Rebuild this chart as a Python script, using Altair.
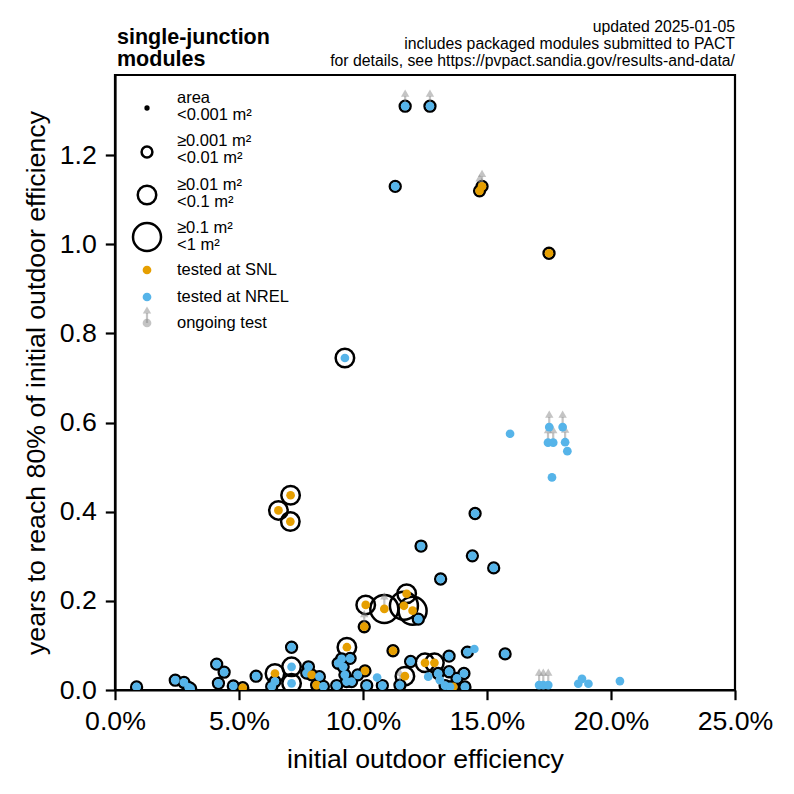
import altair as alt
import pandas as pd

# ---------------- data ----------------
eff_pct = [
    11.70, 12.70, 11.30, 14.80, 14.70, 17.50, 9.27, 7.08, 6.59, 7.07,
    14.52, 12.34, 14.41, 15.27, 13.13,
    15.93, 17.51, 18.05, 17.46, 17.67, 18.15, 18.24, 17.62,
    17.10, 17.27, 17.47, 18.68, 18.83, 19.09, 20.36,
    10.11, 10.86, 11.76, 11.65, 12.00, 12.23, 10.05, 9.35, 11.21, 14.21, 14.49, 15.73, 13.47, 11.92, 12.50, 12.88, 10.08,
    9.14, 9.00, 9.20, 9.48, 9.27, 9.34, 9.79, 9.54, 8.94, 10.15, 10.78, 10.57, 11.69, 11.49,
    13.47, 14.07, 13.03, 12.63, 13.10, 13.79, 13.31, 13.64, 14.11, 13.51,
    0.87, 2.43, 2.78, 2.97, 3.05, 4.10, 4.40, 4.17, 4.77, 5.15, 5.69, 7.12, 7.12, 7.12,
    6.45, 6.45, 6.32, 7.80, 7.73, 7.93, 8.24, 8.13, 8.40,
]
years = [
    1.31, 1.31, 1.13, 1.13, 1.12, 0.98, 0.745, 0.437, 0.403, 0.378,
    0.396, 0.323, 0.301, 0.274, 0.249,
    0.575, 0.590, 0.590, 0.555, 0.555, 0.556, 0.536, 0.477,
    0.011, 0.011, 0.011, 0.014, 0.025, 0.014, 0.020,
    0.191, 0.182, 0.216, 0.189, 0.178, 0.159, 0.142, 0.096, 0.088, 0.085, 0.092, 0.081, 0.076, 0.064, 0.061, 0.061, 0.043,
    0.070, 0.060, 0.052, 0.071, 0.034, 0.019, 0.034, 0.019, 0.010, 0.010, 0.010, 0.028, 0.031, 0.011,
    0.041, 0.037, 0.037, 0.030, 0.022, 0.026, 0.010, 0.007, 0.007, 0.007,
    0.007, 0.022, 0.017, 0.006, 0.003, 0.058, 0.040, 0.015, 0.009, 0.005, 0.031, 0.096, 0.052, 0.015,
    0.037, 0.019, 0.008, 0.052, 0.038, 0.034, 0.030, 0.011, 0.008,
]
lab = (
    ["NREL", "NREL", "NREL", "SNL", "SNL", "SNL", "NREL", "SNL", "SNL", "SNL"]
    + ["NREL"] * 5
    + ["NREL"] * 8
    + ["NREL"] * 7
    + ["SNL", "SNL", "SNL", "SNL", "SNL", "NREL", "SNL", "SNL", "SNL", "NREL", "NREL", "NREL", "NREL", "NREL", "SNL", "SNL", "SNL"]
    + ["NREL"] * 11 + ["NREL", "SNL", "NREL"]
    + ["NREL"] * 7 + ["SNL", "NREL", "NREL"]
    + ["NREL"] * 9 + ["SNL", "NREL", "NREL", "NREL", "NREL", "SNL", "NREL", "NREL", "NREL", "NREL", "SNL", "NREL", "SNL", "NREL"]
)
area_cat = (
    [2, 2, 2, 2, 2, 2, 3, 3, 3, 3]
    + [2] * 5
    + [1] * 8
    + [1] * 7
    + [3, 4, 3, 4, 4, 2, 2, 3, 2, 2, 1, 2, 2, 2, 3, 3, 2]
    + [2] * 11 + [1, 3, 2]
    + [2, 2, 2, 1, 1, 2, 2, 2, 2, 2]
    + [2] * 12 + [3, 3, 3] + [2] * 8
)
ongoing = (
    [1, 1, 0, 1, 1, 0, 0, 0, 0, 0]
    + [0] * 5
    + [0, 1, 1, 1, 1, 1, 0, 0]
    + [1, 1, 1, 0, 0, 0, 0]
    + [0, 1, 0, 0, 0, 0, 1] + [0] * 10
    + [0] * 13 + [1]
    + [0] * 10
    + [0] * 23
)

df = pd.DataFrame({
    "eff": [v / 100 for v in eff_pct],
    "years": years,
    "lab": lab,
    "cat": [str(c) for c in area_cat],
    "ongoing": ongoing,
})

legend_labels = ["area\n<0.001 m²", "≥0.001 m²\n<0.01 m²", "≥0.01 m²\n<0.1 m²", "≥0.1 m²\n<1 m²",
                 "tested at SNL", "tested at NREL", "ongoing test"]
title_lines = "single-junction\nmodules"
note_lines = ("updated 2025-01-05\nincludes packaged modules submitted to PACT\n"
              "for details, see https://pvpact.sandia.gov/results-and-data/")

# ---------------- styling ----------------
FONT = "Liberation Sans"
SNL_C, NREL_C = "#E69F00", "#56B4E9"
GREY = "#8a8a8a"
GREY_OP = 0.5
RING_SIZES = [28, 117, 342, 784]
DOT = 76
HEAD = 70

xs = alt.Scale(domain=[0, 0.25], nice=False, zero=False)
ys = alt.Scale(domain=[0, 1.38], nice=False, zero=False)
cs = alt.Scale(domain=["SNL", "NREL"], range=[SNL_C, NREL_C])
ss = alt.Scale(type="ordinal", domain=["1", "2", "3", "4"], range=RING_SIZES)

xaxis = alt.Axis(values=[0, 0.05, 0.10, 0.15, 0.20, 0.25], format=".1%",
                 title="initial outdoor efficiency", labelFlush=False,
                 labelOverlap=False, labelPadding=9, titlePadding=11)
yaxis = alt.Axis(values=[0, 0.2, 0.4, 0.6, 0.8, 1.0, 1.2], format=".1f",
                 title="years to reach 80% of initial outdoor efficiency",
                 labelPadding=9, titlePadding=9)

base = alt.Chart(df).encode(
    x=alt.X("eff:Q", scale=xs, axis=xaxis),
    y=alt.Y("years:Q", scale=ys, axis=yaxis),
)

rings = base.transform_filter("datum.cat != '1'").mark_point(
    shape="circle", filled=False, color="black", strokeWidth=2.5, opacity=1, clip=True
).encode(size=alt.Size("cat:N", scale=ss, legend=None))

stems = base.transform_filter("datum.ongoing == 1").mark_rule(
    color=GREY, opacity=GREY_OP, strokeWidth=2.2, y2Offset=-10, clip=True
).encode(y2=alt.Y2("years:Q"))

heads = base.transform_filter("datum.ongoing == 1").mark_point(
    shape="triangle-up", filled=True, color=GREY, opacity=GREY_OP, size=HEAD,
    strokeWidth=0, yOffset=-13, clip=True
)

dots = base.mark_circle(size=DOT, opacity=1, clip=True).encode(
    color=alt.Color("lab:N", scale=cs, legend=None)
)

# ---------------- hand-made legend (pixel layout inside the plot) ----------------
leg_sym_x = 32
leg_txt_x = 62
leg_rows_y = [33, 77, 120, 162, 195, 222, 248]          # symbol centres
leg_text_y = [22.5, 65.5, 109.5, 153.0, 195, 222, 248]   # first-line centres
LEG_FS = 16.5

leg_text_df = pd.DataFrame({"px": [leg_txt_x] * 7, "py": leg_text_y, "label": legend_labels})
leg_text = alt.Chart(leg_text_df).mark_text(
    align="left", baseline="middle", fontSize=LEG_FS, lineHeight=17, lineBreak="\n", color="black"
).encode(x=alt.X("px:Q", scale=None), y=alt.Y("py:Q", scale=None), text="label:N")

leg_small = alt.Chart(pd.DataFrame({"px": [leg_sym_x], "py": [leg_rows_y[0]]})).mark_circle(
    color="black", size=RING_SIZES[0], opacity=1
).encode(x=alt.X("px:Q", scale=None), y=alt.Y("py:Q", scale=None))

leg_rings = alt.Chart(pd.DataFrame({"px": [leg_sym_x] * 3, "py": leg_rows_y[1:4], "cat": ["2", "3", "4"]})).mark_point(
    shape="circle", filled=False, color="black", strokeWidth=2.5, opacity=1
).encode(x=alt.X("px:Q", scale=None), y=alt.Y("py:Q", scale=None),
         size=alt.Size("cat:N", scale=ss, legend=None))

leg_dots = alt.Chart(pd.DataFrame({"px": [leg_sym_x] * 2, "py": leg_rows_y[4:6], "lab": ["SNL", "NREL"]})).mark_circle(
    size=DOT, opacity=1
).encode(x=alt.X("px:Q", scale=None), y=alt.Y("py:Q", scale=None),
         color=alt.Color("lab:N", scale=cs, legend=None))

og_df = pd.DataFrame({"px": [leg_sym_x], "py": [leg_rows_y[6]]})
leg_og_dot = alt.Chart(og_df).mark_circle(size=DOT, color=GREY, opacity=GREY_OP).encode(
    x=alt.X("px:Q", scale=None), y=alt.Y("py:Q", scale=None))
leg_og_stem = alt.Chart(og_df).mark_rule(color=GREY, opacity=GREY_OP, strokeWidth=2.2, y2Offset=-10).encode(
    x=alt.X("px:Q", scale=None), y=alt.Y("py:Q", scale=None), y2=alt.Y2("py:Q"))
leg_og_head = alt.Chart(og_df).mark_point(shape="triangle-up", filled=True, color=GREY, opacity=GREY_OP,
                                          size=HEAD, strokeWidth=0, yOffset=-13).encode(
    x=alt.X("px:Q", scale=None), y=alt.Y("py:Q", scale=None))

# ---------------- titles / notes ----------------
one = pd.DataFrame({"t": [title_lines]})
title_txt = alt.Chart(one).mark_text(
    align="left", baseline="alphabetic", fontSize=21.5, fontWeight="bold", lineHeight=22,
    lineBreak="\n", color="black"
).encode(x=alt.value(2), y=alt.value(-31), text="t:N")

note_df = pd.DataFrame({"t": [note_lines]})
note_txt = alt.Chart(note_df).mark_text(
    align="right", baseline="alphabetic", fontSize=15.8, lineHeight=17, lineBreak="\n", color="black"
).encode(x=alt.value(620), y=alt.value(-43), text="t:N")

chart = alt.layer(
    rings, stems, heads, dots,
    leg_small, leg_rings, leg_dots, leg_og_stem, leg_og_head, leg_og_dot, leg_text,
    title_txt, note_txt,
).properties(
    width=620, height=615,
    autosize=alt.AutoSizeParams(type="none"),
    padding={"left": 107, "top": 67, "right": 51, "bottom": 96},
).configure(font=FONT).configure_axis(
    labelFontSize=26.7, titleFontSize=26.7, labelColor="black", titleColor="black",
    titleFontWeight="normal", domainColor="black", tickColor="black",
    domainWidth=2.2, tickWidth=2.2, tickSize=9.7, grid=False, labelFont=FONT, titleFont=FONT,
).configure_view(stroke="black", strokeWidth=2.2)

chart.save("out.html", embed_options={"renderer": "svg", "actions": False})
